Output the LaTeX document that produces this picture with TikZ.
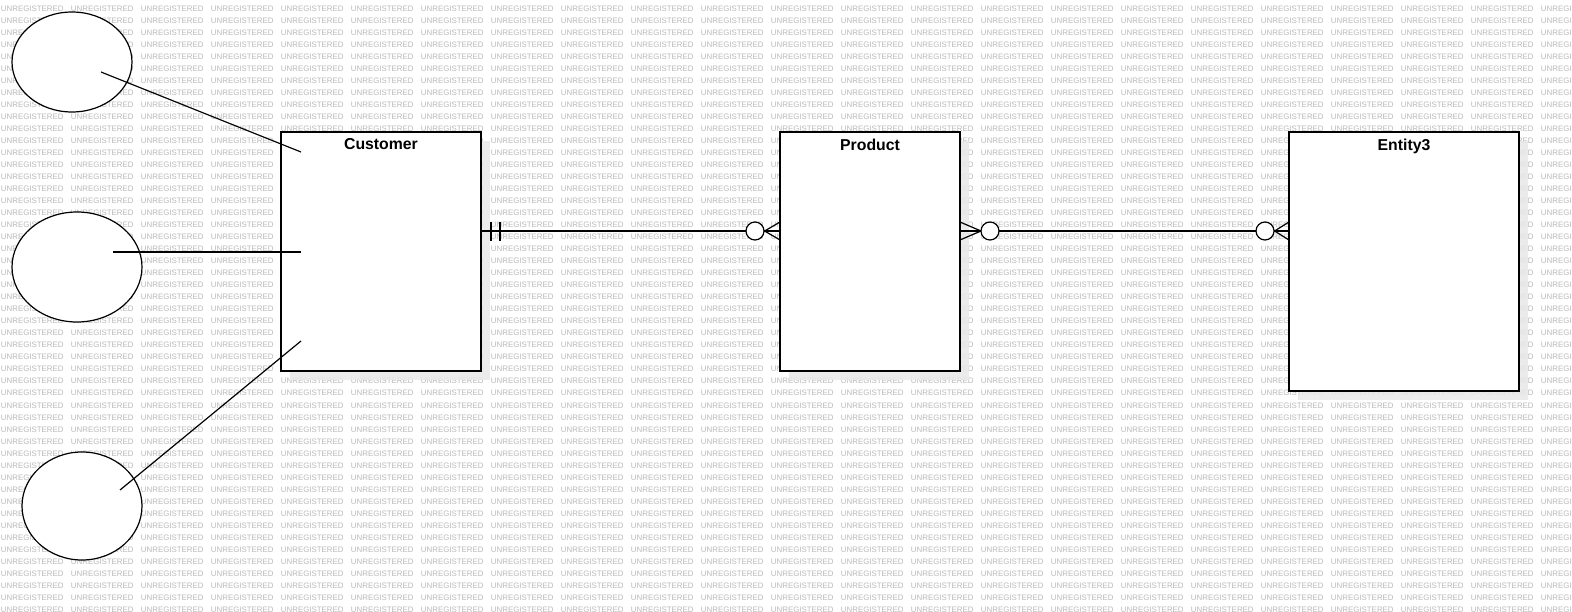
\documentclass[tikz,border=0pt]{standalone}
\usepackage{fontspec}
\setmainfont{Liberation Sans}
\usetikzlibrary{shapes.geometric}
\tikzset{
  wm/.style={anchor=west,inner sep=0pt,text=black!27,font=\fontsize{7.9}{8}\selectfont},
  entity/.style={draw,fill=white,line width=1.2pt,inner sep=0pt},
  shadowbox/.style={fill=black!9,opacity=0.85,inner sep=0pt},
  attr/.style={ellipse,draw,fill=white,line width=1.2pt,inner sep=0pt},
  ttl/.style={font=\bfseries\fontsize{15.8}{18}\selectfont,inner sep=0pt},
  conn/.style={line width=1.2pt},
  ring/.style={circle,draw,fill=white,line width=1.2pt,minimum size=18pt,inner sep=0pt},
}
\begin{document}
\begin{tikzpicture}[x=1pt,y=-1pt]
\useasboundingbox (0,0) rectangle (1572,612);
\fill[white] (0,0) rectangle (1572,612);
% watermark
\begin{scope}
\clip (0,0) rectangle (1572,612);
\foreach \r in {0,...,50}{
  \foreach \c in {0,...,22}{
    \node[wm] at (\c*70+0.7, 8.3+12.03*\r) {UNREGISTERED};
  }
}
\end{scope}
% shadows
\node[shadowbox,minimum width=200pt,minimum height=239pt] at (390,260.5) {};
\node[shadowbox,minimum width=180pt,minimum height=239pt] at (879,260.5) {};
\node[shadowbox,minimum width=230pt,minimum height=259pt] at (1413,270.5) {};
% entities
\node[entity,minimum width=200pt,minimum height=239pt] (cust) at (381,251.5) {};
\node[entity,minimum width=180pt,minimum height=239pt] (prod) at (870,251.5) {};
\node[entity,minimum width=230pt,minimum height=259pt] (ent3) at (1404,261.5) {};
\node[ttl,anchor=north] (custT) at ([yshift=-7pt]cust.north) {Customer};
\node[ttl,anchor=north] (prodT) at ([yshift=-7pt]prod.north) {Product};
\node[ttl,anchor=north] (ent3T) at ([yshift=-7pt]ent3.north) {Entity3};
% attributes
\node[attr,minimum width=120pt,minimum height=100pt] (a1) at (72,62) {};
\node[attr,minimum width=130pt,minimum height=110pt] (a2) at (77,267) {};
\node[attr,minimum width=120pt,minimum height=108pt] (a3) at (82,506) {};
\coordinate (a1p) at (101,72);
\coordinate (a2p) at (113,252);
\coordinate (a3p) at (120,490);
\coordinate (c1) at (301,152);
\coordinate (c2) at (301,252);
\coordinate (c3) at (301,341);
\draw[conn] (a1p) -- (c1);
\draw[conn] (a2p) -- (c2);
\draw[conn] (a3p) -- (c3);
% Customer -- Product
\coordinate (cpL) at (cust.east |- 0,231);
\coordinate (cpR) at (prod.west |- 0,231);
\draw[conn] (cpL) -- (cpR);
\draw[conn] (491,222) -- (491,241);
\draw[conn] (500,222) -- (500,241);
\node[ring] (r1) at (755,231) {};
\draw[conn] (r1.east) -- (780,222);
\draw[conn] (r1.east) -- (780,240);
% Product -- Entity3
\coordinate (peL) at (prod.east |- 0,231);
\coordinate (peR) at (ent3.west |- 0,231);
\draw[conn] (peL) -- (peR);
\draw[conn] (960,222) -- (981,231) -- (960,240);
\node[ring] (r2) at (990,231) {};
\node[ring] (r3) at (1265,231) {};
\draw[conn] (r3.east) -- (1289,222);
\draw[conn] (r3.east) -- (1289,240);
\end{tikzpicture}
\end{document}
